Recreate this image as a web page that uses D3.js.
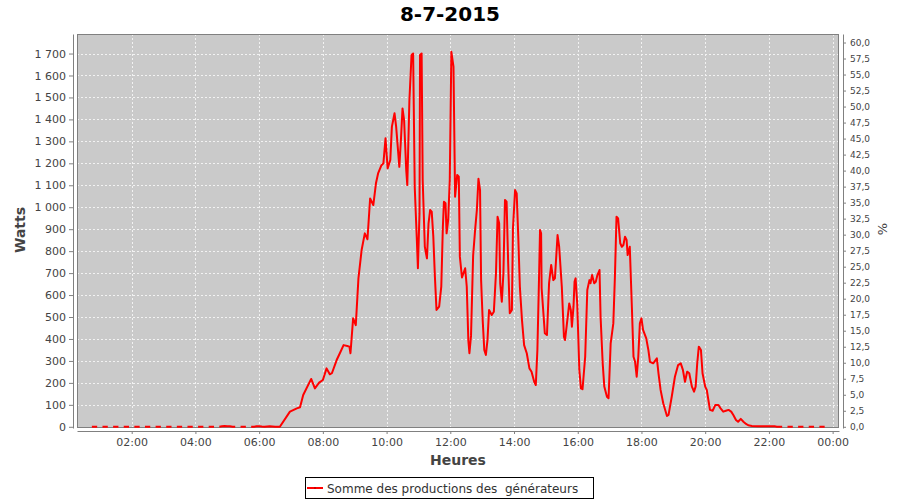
<!DOCTYPE html>
<html><head><meta charset="utf-8">
<script src="https://cdn.jsdelivr.net/npm/d3@7"></script>
<style>
body{margin:0;background:#fff}
text{font-family:"DejaVu Sans",sans-serif}
</style>
</head><body>
<svg id="chart" width="900" height="500"></svg>
<script>
// ---------------- DATA ----------------
const chartTitle = "8-7-2015";
const seriesName = "Somme des productions des  générateurs";
const xLabel = "Heures";
const yLabelLeft = "Watts";
const yLabelRight = "%";

// Night (morning) samples every 5 minutes from 00:45 (null = missing sample)
const nightAMStart = "00:45";
const nightAM = [
  0,0,0,null, 0,0,0,null, 0,0,0,null, 0,0,0,null,
  0,0,0,null, 0,0,0,null, 0,0,0,null, 0,0,0,null,
  0,0,0,null, 0,0,0,null, 0,0,0,null,
  0,0,0,null, 0,2,4,3, 2,0,0,null, 0,0,0,null, 0,0,2,3,1
];

// Day samples (time, watts)
const dayTimes = ["06:10","06:20","06:30","06:39","06:58","07:11","07:17","07:23","07:38","07:45","07:53","08:00","08:07","08:13","08:17","08:26","08:32","08:39","08:46","08:50","08:52","08:57","09:02","09:07","09:13","09:19","09:24","09:29","09:35","09:40","09:44","09:50","09:54","09:58","10:02","10:07","10:10","10:15","10:18","10:22","10:24","10:27","10:30","10:33","10:37","10:39","10:43","10:47","10:50","10:53","10:57","10:59","11:02","11:03","11:06","11:08","11:12","11:16","11:19","11:22","11:25","11:28","11:31","11:34","11:39","11:43","11:46","11:48","11:51","11:53","11:56","11:59","12:02","12:06","12:09","12:13","12:16","12:18","12:22","12:28","12:31","12:34","12:36","12:39","12:43","12:47","12:50","12:53","12:56","12:58","13:01","13:04","13:07","13:10","13:13","13:18","13:22","13:26","13:29","13:32","13:34","13:37","13:40","13:43","13:46","13:49","13:52","13:56","13:58","14:02","14:05","14:08","14:11","14:15","14:19","14:24","14:29","14:33","14:38","14:41","14:44","14:47","14:49","14:51","14:52","14:58","15:02","15:06","15:10","15:14","15:17","15:22","15:25","15:30","15:34","15:36","15:39","15:44","15:47","15:49","15:52","15:54","15:56","15:59","16:03","16:06","16:09","16:14","16:18","16:22","16:24","16:27","16:31","16:34","16:37","16:41","16:43","16:47","16:50","16:55","16:58","17:02","17:07","17:10","17:13","17:16","17:20","17:23","17:26","17:29","17:32","17:34","17:38","17:42","17:45","17:48","17:51","17:54","17:57","18:00","18:03","18:09","18:13","18:16","18:22","18:29","18:32","18:36","18:41","18:48","18:51","18:57","19:03","19:09","19:14","19:18","19:22","19:26","19:30","19:35","19:39","19:42","19:45","19:48","19:52","19:55","20:00","20:03","20:06","20:09","20:14","20:19","20:25","20:29","20:34","20:39","20:44","20:49","20:53","20:58","21:02","21:07","21:12","21:17","21:21","21:28","21:40","21:55","22:12"];
const dayWatts = [0,2,0,0,69,84,89,145,218,175,201,213,266,239,244,304,335,372,368,365,335,494,463,676,805,881,854,1040,1010,1109,1154,1190,1200,1314,1177,1215,1367,1428,1367,1245,1184,1306,1450,1397,1169,1101,1488,1693,1700,1093,851,722,972,1693,1700,1124,820,767,927,987,980,866,684,532,547,638,911,1025,1018,881,942,1124,1708,1640,1048,1147,1139,775,680,722,638,392,335,414,780,905,987,1130,1078,668,486,350,327,395,532,509,524,699,957,927,653,570,699,1033,1025,744,517,532,904,1078,1063,866,638,486,372,335,266,251,205,190,350,668,896,881,631,426,418,654,737,668,676,873,820,638,410,395,456,562,532,456,547,661,676,562,259,175,171,319,623,668,654,691,654,661,691,714,501,289,183,137,130,380,471,684,957,949,836,820,828,866,851,782,820,540,319,296,228,319,471,494,441,403,350,296,289,312,244,168,107,49,54,137,228,281,289,259,205,251,244,183,160,183,289,365,350,244,183,168,122,77,73,99,99,84,69,73,77,69,54,31,23,36,23,13,7,4,3,3,2];

// Night (evening) samples every 5 minutes from 22:15
const nightPMStart = "22:15";
const nightPM = [0,0,0,null, 0,0,0,null, 0,0,0,null, 0,0,0,null, 0,0,0];

// Axis ticks
const leftTicks = d3.range(0, 1701, 100);
const rightTicks = d3.range(0, 60.01, 2.5);

// ---------------- BUILD ----------------
const day0 = "2015-07-08";
const parseT = t => new Date(`${day0}T${t}:00`);
const addMin = (d, m) => new Date(d.getTime() + m * 60000);

const series = [];
nightAM.forEach((w, i) => series.push({t: addMin(parseT(nightAMStart), 5 * i), w}));
dayTimes.forEach((t, i) => series.push({t: parseT(t), w: dayWatts[i]}));
nightPM.forEach((w, i) => series.push({t: addMin(parseT(nightPMStart), 5 * i), w}));

const P = {l: 77, r: 839, t: 34, b: 428};
const svg = d3.select("#chart");

const x = d3.scaleTime()
  .domain([parseT("00:17"), new Date("2015-07-09T00:12:00")])
  .range([P.l, P.r]);
const yL = d3.scaleLinear().domain([-5.5, 1789]).range([P.b, P.t]);
const yR = d3.scaleLinear().domain([-0.19, 61.33]).range([P.b, P.t]);

const fr = d3.formatLocale({decimal: ",", thousands: "\u00a0", grouping: [3], currency: ["", " €"]});
const fmtW = fr.format(",d");
const fmtP = fr.format(".1f");

// plot background
svg.append("rect").attr("x", P.l).attr("y", P.t)
  .attr("width", P.r - P.l).attr("height", P.b - P.t)
  .attr("fill", "#cacaca");

// grid
const xTicks = x.ticks(d3.timeHour.every(2));
svg.append("g").selectAll("line").data(leftTicks).join("line")
  .attr("x1", P.l).attr("x2", P.r)
  .attr("y1", d => Math.round(yL(d)) + 0.5).attr("y2", d => Math.round(yL(d)) + 0.5)
  .attr("stroke", "#f2f2f2").attr("stroke-width", 1).attr("stroke-dasharray", "2,2");
svg.append("g").selectAll("line").data(xTicks).join("line")
  .attr("y1", P.t).attr("y2", P.b)
  .attr("x1", d => Math.round(x(d)) + 0.5).attr("x2", d => Math.round(x(d)) + 0.5)
  .attr("stroke", "#f2f2f2").attr("stroke-width", 1).attr("stroke-dasharray", "2,2");

// plot border
svg.append("rect").attr("x", P.l + 0.5).attr("y", P.t + 0.5)
  .attr("width", P.r - P.l - 1).attr("height", P.b - P.t - 1)
  .attr("fill", "none").attr("stroke", "#808080");

// data line
const line = d3.line()
  .defined(d => d.w !== null)
  .x(d => x(d.t)).y(d => yL(d.w));
svg.append("path").datum(series)
  .attr("d", line).attr("fill", "none")
  .attr("stroke", "#ff0000").attr("stroke-width", 2)
  .attr("stroke-linejoin", "round");

// axes
function styleAxis(g, size) {
  g.select(".domain").attr("stroke", "#808080");
  g.selectAll(".tick line").attr("stroke", "#808080");
  g.selectAll(".tick text").attr("fill", "#444").attr("font-size", size)
    .attr("font-family", "DejaVu Sans");
}
svg.append("g").attr("transform", `translate(73,0)`)
  .call(d3.axisLeft(yL).tickValues(leftTicks).tickFormat(fmtW).tickSize(4).tickSizeOuter(0).tickPadding(3))
  .call(g => styleAxis(g, 11));
svg.append("g").attr("transform", `translate(843,0)`)
  .call(d3.axisRight(yR).tickValues(rightTicks).tickFormat(fmtP).tickSize(3).tickSizeOuter(0).tickPadding(4))
  .call(g => styleAxis(g, 9));
svg.append("g").attr("transform", `translate(0,431)`)
  .call(d3.axisBottom(x).tickValues(xTicks).tickFormat(d3.timeFormat("%H:%M")).tickSize(3).tickSizeOuter(0).tickPadding(4))
  .call(g => styleAxis(g, 11));

// titles
svg.append("text").attr("x", 450).attr("y", 21).attr("text-anchor", "middle")
  .attr("font-size", 20).attr("font-weight", "bold").attr("fill", "#000").text(chartTitle);
svg.append("text").attr("x", 458).attr("y", 465).attr("text-anchor", "middle")
  .attr("font-size", 14).attr("font-weight", "bold").attr("fill", "#444").text(xLabel);
svg.append("text").attr("transform", "translate(25,230) rotate(-90)").attr("text-anchor", "middle")
  .attr("font-size", 14).attr("font-weight", "bold").attr("fill", "#444").text(yLabelLeft);
svg.append("text").attr("transform", "translate(887,229) rotate(-90)").attr("text-anchor", "middle")
  .attr("font-size", 13).attr("fill", "#444").text(yLabelRight);

// legend
const lg = svg.append("g");
lg.append("rect").attr("x", 305.5).attr("y", 477.5).attr("width", 288).attr("height", 21)
  .attr("fill", "#fff").attr("stroke", "#000");
lg.append("line").attr("x1", 307).attr("x2", 323).attr("y1", 488).attr("y2", 488)
  .attr("stroke", "#ff0000").attr("stroke-width", 2);
lg.append("rect").attr("x", 314).attr("y", 487).attr("width", 2).attr("height", 2).attr("fill", "#c00");
lg.append("text").attr("x", 327).attr("y", 492.5).attr("font-size", 12).attr("fill", "#333")
  .style("white-space", "pre").text(seriesName);
</script>
</body></html>
